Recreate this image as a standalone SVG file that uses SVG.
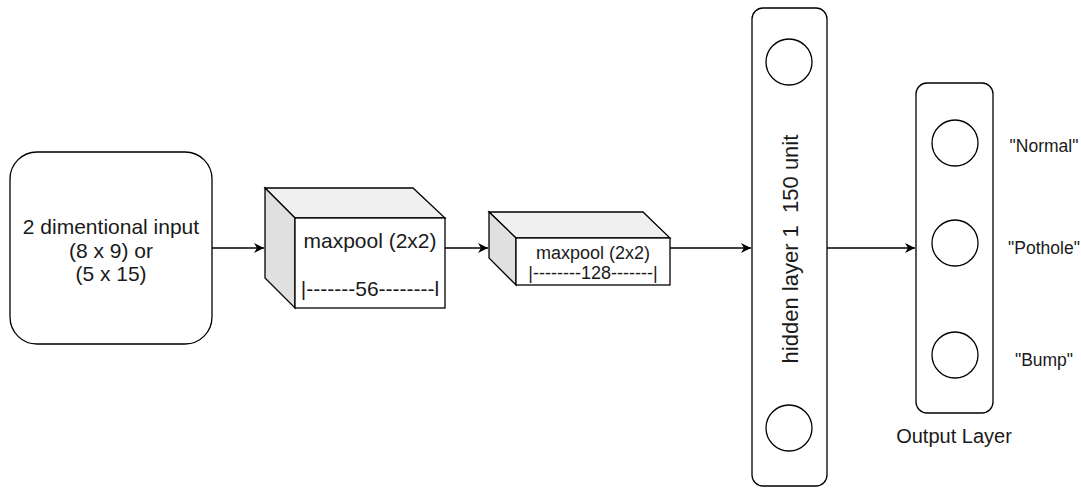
<svg xmlns="http://www.w3.org/2000/svg" width="1081" height="489" viewBox="0 0 1081 489">
<defs>
<style>
.s{stroke:#000;stroke-width:1.3;}
.t{font-family:"Liberation Sans",Arial,sans-serif;fill:#1a1a1a;text-anchor:middle;}
.c{fill:#fff;stroke:#000;stroke-width:1.3;}
.e{stroke:#000;stroke-width:1.3;fill:none;}
</style>
<marker id="ah" markerWidth="12" markerHeight="10" refX="10" refY="5" orient="auto" markerUnits="userSpaceOnUse">
<path d="M0,0 L10,5 L0,10 L3,5 Z" fill="#000"/>
</marker>
</defs>
<rect width="1081" height="489" fill="#fff"/>
<g id="input">
<rect x="10" y="152" width="202" height="192" rx="27" class="c"/>
<text class="t" font-size="21" x="111" y="234">2 dimentional input</text>
<text class="t" font-size="21" x="111" y="258">(8 x 9) or</text>
<text class="t" font-size="21" x="111" y="281">(5 x 15)</text>
</g>
<g id="cube1">
<polygon points="265,188 413,188 445,218 295,218" fill="#f0f0f0" class="s"/>
<polygon points="265,188 295,218 295,308 265,278" fill="#e0e0e0" class="s"/>
<rect x="295" y="218" width="150" height="90" class="c"/>
<text class="t" font-size="21" x="370" y="248">maxpool (2x2)</text>
<text class="t" font-size="21" x="370" y="296">|-------56--------l</text>
</g>
<g id="cube2">
<polygon points="489,212 643,212 670,238 516,238" fill="#f0f0f0" class="s"/>
<polygon points="489,212 516,238 516,285 489,258" fill="#e0e0e0" class="s"/>
<rect x="516" y="238" width="154" height="47" class="c"/>
<text class="t" font-size="18" x="593" y="259">maxpool (2x2)</text>
<text class="t" font-size="18" x="593" y="279">|--------128-------|</text>
</g>
<g id="hidden">
<rect x="752" y="8" width="75" height="478" rx="11" class="c"/>
<circle cx="789" cy="62" r="23" class="c"/>
<circle cx="789" cy="428" r="23" class="c"/>
<text class="t" font-size="22" x="798" y="249" transform="rotate(-90 798 249)" xml:space="preserve">hidden layer 1  150 unit</text>
</g>
<g id="output">
<rect x="916" y="83" width="77" height="330" rx="11" class="c"/>
<circle cx="955" cy="143" r="23" class="c"/>
<circle cx="955" cy="243" r="23" class="c"/>
<circle cx="955" cy="355" r="23" class="c"/>
<text class="t" font-size="17.5" x="1044" y="152">"Normal"</text>
<text class="t" font-size="17.5" x="1044" y="254">"Pothole"</text>
<text class="t" font-size="17.5" x="1044" y="366">"Bump"</text>
<text class="t" font-size="20" x="954" y="443">Output Layer</text>
</g>
<g id="connectors">
<line x1="212" y1="248" x2="264" y2="248" class="e" marker-end="url(#ah)"/>
<line x1="445" y1="248" x2="488" y2="248" class="e" marker-end="url(#ah)"/>
<line x1="670" y1="248" x2="751" y2="248" class="e" marker-end="url(#ah)"/>
<line x1="827" y1="248" x2="915" y2="248" class="e" marker-end="url(#ah)"/>
</g>
</svg>
